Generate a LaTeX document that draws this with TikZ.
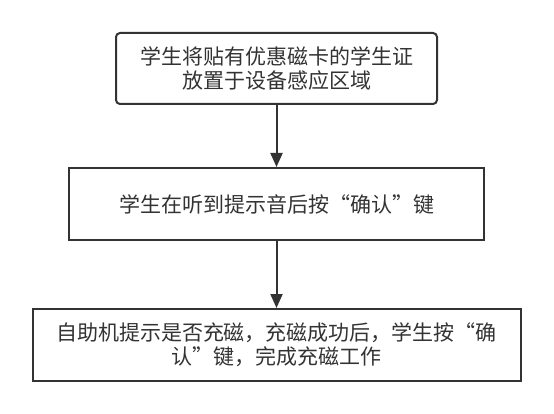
\documentclass[tikz,border=0pt]{standalone}
\usepackage{fontspec}
\setmainfont{Noto Sans CJK SC}
\usepackage{xcolor}
\usepackage{tikz}
\usetikzlibrary{shapes.geometric, arrows.meta}
\definecolor{linegray}{HTML}{333333}
\tikzstyle{startbox} = [rectangle, rounded corners=4pt, minimum width=321pt, minimum height=71pt, align=center, draw=linegray, line width=2pt, text=linegray]
\tikzstyle{process} = [rectangle, minimum height=72pt, align=center, draw=linegray, line width=2pt, text=linegray]
\tikzstyle{arrow} = [line width=2pt, draw=linegray, -{Triangle[length=14pt,width=12pt]}]

\begin{document}
\begin{tikzpicture}[node distance=135.5pt, font=\fontsize{21}{24}\selectfont]
\useasboundingbox (0,0) rectangle (554pt,-414pt);

% Nodes
\node (place) [startbox] at (276.5pt,-68.5pt) {学生将贴有优惠磁卡的学生证\\放置于设备感应区域};
\node (confirm) [process, minimum width=415pt, below of=place] {学生在听到提示音后按“确认”键};
\node (charge) [process, minimum width=488pt, below of=confirm, yshift=-5.5pt] {自助机提示是否充磁，充磁成功后，学生按“确\\认”键，完成充磁工作};

% Arrows
\draw [arrow] (place) -- (confirm);
\draw [arrow] (confirm) -- (charge);

\end{tikzpicture}
\end{document}
